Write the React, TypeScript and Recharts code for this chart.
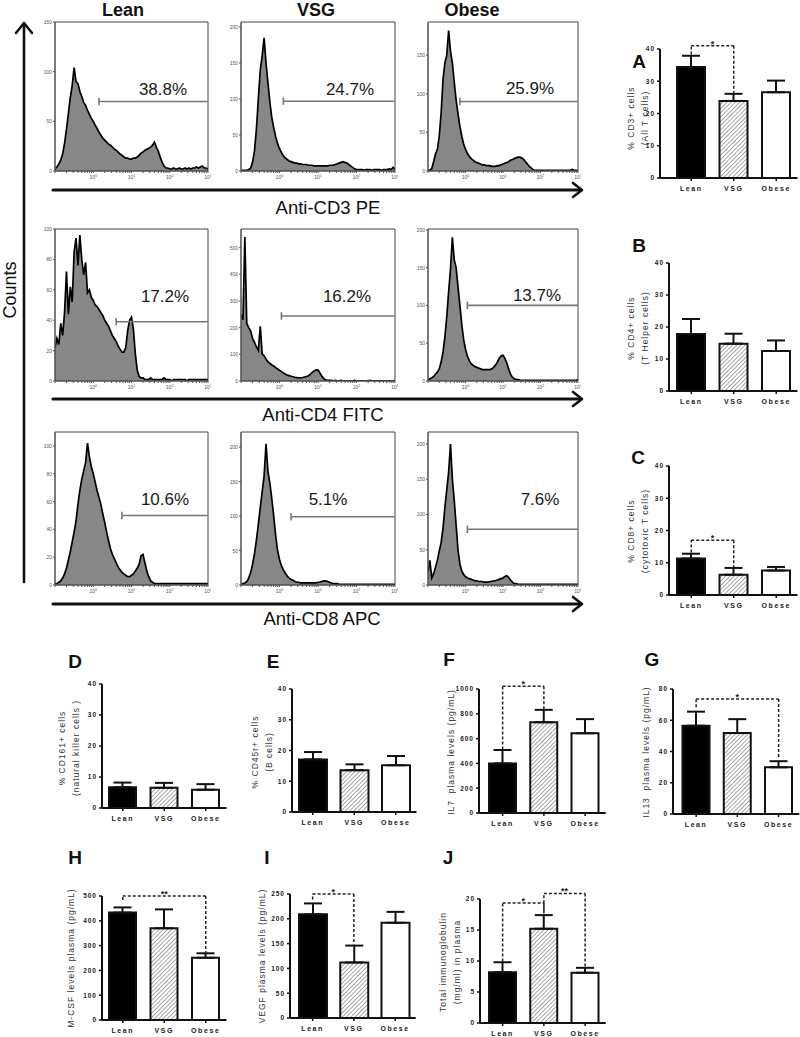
import React from "react";
import {
  AreaChart,
  Area,
  BarChart,
  Bar,
  Cell,
  ErrorBar,
  XAxis,
  YAxis,
  ReferenceLine,
  ReferenceArea,
} from "recharts";

const FONT = '"Liberation Sans", Arial, sans-serif';
const groups = ["Lean", "VSG", "Obese"];

// flow histograms: counts per channel, 20 channels per decade, 10^-1 .. 10^3 (81 channels)
const cd3Lean = [
  2, 4, 7, 11, 17, 28, 42, 58, 74, 86,
  104, 90, 88, 80, 75, 69, 66, 61, 57, 53,
  50, 46, 43, 39, 36, 33, 31, 29, 27, 26,
  24, 22, 21, 19, 17, 16, 14, 13, 13, 12,
  12, 13, 13, 14, 16, 18, 19, 21, 22, 23,
  24, 26, 29, 24, 20, 14, 9, 5, 3, 3,
  2, 2, 3, 2, 2, 3, 2, 2, 3, 2,
  3, 2, 3, 3, 4, 3, 4, 5, 3, 3,
  2,
];
const cd3Vsg = [
  0, 1, 1, 1, 2, 4, 12, 28, 58, 100,
  140, 160, 185, 150, 122, 96, 74, 60, 48, 38,
  31, 26, 21, 18, 16, 14, 13, 12, 11, 11,
  10, 10, 9, 9, 9, 8, 8, 8, 7, 7,
  7, 7, 7, 7, 7, 7, 8, 8, 8, 9,
  10, 11, 12, 13, 12, 11, 9, 7, 5, 3,
  2, 2, 2, 2, 1, 2, 2, 2, 1, 2,
  2, 2, 2, 1, 2, 2, 2, 3, 2, 5,
  3,
];
const cd3Obese = [
  1, 1, 3, 12, 22, 28, 45, 75, 118, 140,
  150, 182, 155, 140, 115, 92, 74, 58, 45, 35,
  28, 23, 19, 16, 14, 12, 11, 10, 9, 8,
  8, 7, 7, 7, 6, 6, 6, 7, 7, 8,
  9, 10, 11, 12, 14, 15, 16, 17, 18, 18,
  17, 15, 12, 9, 6, 4, 2, 1, 1, 1,
  1, 1, 1, 1, 1, 1, 1, 1, 1, 1,
  1, 1, 1, 1, 1, 1, 1, 2, 1, 1,
  1,
];
const cd4Lean = [
  22, 28, 24, 38, 30, 45, 72, 44, 62, 52,
  85, 94, 76, 96, 80, 70, 78, 58, 60, 55,
  53, 50, 49, 47, 45, 43, 40, 38, 36, 33,
  30, 28, 26, 23, 21, 19, 19, 22, 33, 40,
  42, 34, 18, 7, 3, 2, 2, 1, 1, 1,
  2, 1, 1, 1, 1, 1, 1, 2, 1, 1,
  1, 0, 1, 1, 1, 1, 1, 1, 1, 0,
  1, 1, 1, 1, 1, 1, 1, 1, 1, 1,
  1,
];
const cd4Vsg = [
  250, 230, 540, 215, 200, 188, 160, 145, 128, 115,
  205, 102, 95, 82, 72, 66, 60, 56, 50, 45,
  40, 35, 30, 26, 22, 20, 18, 16, 14, 13,
  12, 12, 13, 15, 17, 20, 25, 32, 38, 42,
  41, 30, 18, 9, 4, 2, 2, 2, 1, 2,
  1, 1, 2, 1, 1, 1, 1, 1, 1, 2,
  1, 1, 1, 1, 1, 1, 1, 2, 1, 1,
  1, 1, 1, 1, 1, 1, 1, 1, 1, 1,
  2,
];
const cd4Obese = [
  2, 3, 4, 6, 9, 12, 16, 25, 38, 58,
  85, 118, 148, 190, 160, 150, 125, 100, 75, 55,
  42, 33, 27, 23, 21, 19, 18, 17, 16, 15,
  15, 15, 15, 15, 16, 18, 21, 25, 30, 33,
  34, 30, 24, 16, 9, 5, 3, 2, 2, 1,
  1, 1, 1, 1, 1, 1, 1, 1, 1, 1,
  1, 1, 1, 1, 1, 1, 1, 1, 1, 1,
  1, 1, 1, 1, 1, 1, 1, 1, 1, 1,
  2,
];
const cd8Lean = [
  1, 1, 2, 3, 5, 8, 12, 18, 24, 31,
  38, 46, 58, 68, 76, 82, 88, 102, 92, 85,
  80, 74, 68, 63, 58, 51, 45, 38, 32, 26,
  22, 19, 16, 13, 11, 9, 8, 7, 6, 6,
  7, 8, 10, 12, 15, 21, 22, 16, 10, 6,
  3, 2, 1, 1, 1, 1, 1, 1, 1, 1,
  1, 1, 1, 1, 1, 1, 1, 1, 1, 1,
  1, 1, 1, 1, 1, 1, 1, 1, 1, 1,
  1,
];
const cd8Vsg = [
  1, 2, 3, 5, 10, 18, 30, 45, 65, 88,
  112, 135, 158, 205, 165, 148, 125, 100, 72, 50,
  37, 28, 22, 17, 13, 10, 8, 7, 5, 4,
  4, 3, 3, 3, 3, 3, 3, 3, 3, 3,
  4, 4, 5, 6, 6, 5, 4, 3, 2, 2,
  2, 1, 1, 1, 1, 1, 1, 1, 1, 1,
  1, 1, 1, 1, 1, 1, 1, 1, 1, 1,
  1, 1, 1, 1, 1, 1, 1, 1, 1, 1,
  1,
];
const cd8Obese = [
  18, 35, 10, 16, 25, 35, 48, 60, 80, 110,
  135, 160, 200, 150, 120, 85, 50, 30, 20, 15,
  12, 10, 9, 8, 7, 6, 6, 5, 5, 5,
  4, 4, 4, 5, 5, 6, 6, 7, 8, 9,
  10, 12, 13, 11, 7, 4, 2, 2, 1, 1,
  1, 1, 1, 1, 1, 1, 1, 1, 1, 1,
  1, 1, 1, 1, 1, 1, 1, 1, 1, 1,
  1, 1, 1, 1, 1, 1, 1, 1, 1, 1,
  1,
];

const histTitles = ["Lean", "VSG", "Obese"];
const markers = ["Anti-CD3 PE", "Anti-CD4 FITC", "Anti-CD8 APC"];
const histCounts = [cd3Lean, cd3Vsg, cd3Obese, cd4Lean, cd4Vsg, cd4Obese, cd8Lean, cd8Vsg, cd8Obese];
const histYMax = [150, 207, 193, 100, 570, 201, 110, 222, 217];
const histYTicks = [
  [0, 50, 100, 150], [0, 50, 100, 150, 200], [0, 50, 100, 150],
  [0, 20, 40, 60, 80, 100], [0, 100, 200, 300, 400, 500], [0, 50, 100, 150, 200],
  [0, 20, 40, 60, 80, 100], [0, 50, 100, 150, 200], [0, 50, 100, 150, 200],
];
// gate: start channel, count level, percent positive
const gateStart = [23, 22, 17, 32, 21, 21, 35, 26, 21];
const gateLevel = [70, 97, 90, 39, 244, 100, 50, 99, 79];
const gatePct = ["38.8%", "24.7%", "25.9%", "17.2%", "16.2%", "13.7%", "10.6%", "5.1%", "7.6%"];

// bar panels: mean and top of error bar (Lean, VSG, Obese)
const cd3Mean = [34.4, 23.9, 26.6];
const cd3Top = [37.9, 26.1, 30.2];
const cd4Mean = [17.8, 14.8, 12.5];
const cd4Top = [22.5, 17.9, 15.8];
const cd8Mean = [11.3, 6.3, 7.6];
const cd8Top = [12.8, 8.4, 8.7];
const cd161Mean = [6.7, 6.5, 5.9];
const cd161Top = [8.2, 8.1, 7.7];
const cd45Mean = [17.1, 13.6, 15.2];
const cd45Top = [19.5, 15.5, 18.2];
const il7Mean = [400, 732, 643];
const il7Top = [508, 832, 757];
const il13Mean = [56.5, 51.8, 29.9];
const il13Top = [65.5, 60.7, 33.8];
const mcsfMean = [433, 370, 251];
const mcsfTop = [454, 446, 269];
const vegfMean = [209, 112, 192];
const vegfTop = [231, 146, 214];
const igMean = [8.2, 15.2, 8.1];
const igTop = [9.8, 17.4, 8.9];

// significance brackets
const sigA = [{ a: "Lean", b: "VSG", level: 41, ya: 38.3, yb: 26.4, mark: "*" }];
const sigC = [{ a: "Lean", b: "VSG", level: 17, ya: 13.2, yb: 8.6, mark: "*" }];
const sigF = [{ a: "Lean", b: "VSG", level: 1022, ya: 512, yb: 836, mark: "*" }];
const sigG = [{ a: "Lean", b: "Obese", level: 73.6, ya: 68.4, yb: 36.5, mark: "*" }];
const sigH = [{ a: "Lean", b: "Obese", level: 500, ya: 484, yb: 271, mark: "**" }];
const sigI = [{ a: "Lean", b: "VSG", level: 250, ya: 239, yb: 148, mark: "*" }];
const sigJ = [
  { a: "Lean", b: "VSG", level: 19.35, ya: 9.9, yb: 17.7, mark: "*" },
  { a: "VSG", b: "Obese", level: 20.9, ya: 17.7, yb: 9.0, mark: "**" },
];

const histBoxX = [[55, 208], [241, 395], [428, 578]];
const histBoxY = [[22, 171], [229, 381], [432, 585]];
const pctPos = [
  [163, 90], [350, 90], [530, 89],
  [165, 297], [347, 297], [537, 296],
  [165, 500], [328, 500], [540, 500],
];

const barPanels = [
  { id: "A", mean: cd3Mean, top: cd3Top, sig: sigA, max: 40, ticks: [0, 10, 20, 30, 40], ax: 660, yTop: 49, y0: 178, padL: 10, cw: 42.5, bw: 28, letter: [639, 62], lab: ["% CD3+ cells", "(All T cells)"], labPos: [639, 118] },
  { id: "B", mean: cd4Mean, top: cd4Top, sig: [], max: 40, ticks: [0, 10, 20, 30, 40], ax: 669, yTop: 263, y0: 391, padL: 1, cw: 42.5, bw: 28, letter: [639, 246], lab: ["% CD4+ cells", "(T Helper cells)"], labPos: [639, 328] },
  { id: "C", mean: cd8Mean, top: cd8Top, sig: sigC, max: 40, ticks: [0, 10, 20, 30, 40], ax: 669, yTop: 466, y0: 595, padL: 1, cw: 42.5, bw: 28, letter: [638, 458], lab: ["% CD8+ cells", "(cytotoxic T cells)"], labPos: [639, 531] },
  { id: "D", mean: cd161Mean, top: cd161Top, sig: [], max: 40, ticks: [0, 10, 20, 30, 40], ax: 102, yTop: 684, y0: 808, padL: 0, cw: 41.5, bw: 27, letter: [75, 662], lab: ["% CD161+ cells", "(natural killer cells )"], labPos: [70, 748] },
  { id: "E", mean: cd45Mean, top: cd45Top, sig: [], max: 40, ticks: [0, 10, 20, 30, 40], ax: 292, yTop: 689, y0: 812, padL: 0, cw: 41.5, bw: 28, letter: [273, 662], lab: ["% CD45r+ cells", "(B cells)"], labPos: [263, 752] },
  { id: "F", mean: il7Mean, top: il7Top, sig: sigF, max: 1000, ticks: [0, 200, 400, 600, 800, 1000], ax: 479, yTop: 689, y0: 813, padL: 3, cw: 41.25, bw: 27, letter: [449, 660], lab: ["IL7  plasma levels (pg/mL)"], labPos: [452, 752] },
  { id: "G", mean: il13Mean, top: il13Top, sig: sigG, max: 80, ticks: [0, 20, 40, 60, 80], ax: 673, yTop: 689, y0: 814, padL: 2.5, cw: 41.25, bw: 27, letter: [652, 660], lab: ["IL13  plasma levels (pg/mL)"], labPos: [647, 752] },
  { id: "H", mean: mcsfMean, top: mcsfTop, sig: sigH, max: 500, ticks: [0, 100, 200, 300, 400, 500], ax: 102, yTop: 896, y0: 1020, padL: 0, cw: 41.5, bw: 27, letter: [75, 858], lab: ["M-CSF levels plasma (pg/mL)"], labPos: [72, 958] },
  { id: "I", mean: vegfMean, top: vegfTop, sig: sigI, max: 250, ticks: [0, 50, 100, 150, 200, 250], ax: 290, yTop: 894, y0: 1018, padL: 2, cw: 41.25, bw: 28, letter: [267, 858], lab: ["VEGF plasma levels (pg/mL)"], labPos: [263, 956] },
  { id: "J", mean: igMean, top: igTop, sig: sigJ, max: 20, ticks: [0, 5, 10, 15, 20], ax: 480, yTop: 899, y0: 1023, padL: 2, cw: 41.25, bw: 27, letter: [448, 858], lab: ["Total immunoglobulin", "(mg/ml) in plasma"], labPos: [451, 962] },
];

// log axis ticks in channel units (majors at each decade, minors at 2..9)
const logTicks: number[] = [];
for (let d = 0; d < 4; d++) {
  for (let k = 1; k <= 9; k++) logTicks.push(+((d + Math.log10(k)) * 20).toFixed(3));
}
logTicks.push(80);

const LogTick = (props: any) => {
  const { x, y, payload } = props;
  const v = payload.value;
  if (v === 0 || Math.abs(v / 20 - Math.round(v / 20)) > 0.001) return <g />;
  return (
    <text x={x} y={y} dy={5} textAnchor="middle" fontSize={5} fill="#555" fontFamily={FONT}>
      10<tspan dy={-2} fontSize={3.6}>{Math.round(v / 20) - 1}</tspan>
    </text>
  );
};

const HistYTick = (props: any) => {
  const { x, y, payload } = props;
  return (
    <text x={x} y={y} dy={2} textAnchor="end" fontSize={5} fill="#555" fontFamily={FONT}>
      {payload.value}
    </text>
  );
};

const BarXTick = (props: any) => {
  const { x, y, payload } = props;
  return (
    <text x={x} y={y} dy={8} textAnchor="middle" fontSize={7} fontWeight={700} fill="#222" fontFamily={FONT} style={{ letterSpacing: 1.6 }}>
      {payload.value}
    </text>
  );
};

const BarYTick = (props: any) => {
  const { x, y, payload } = props;
  return (
    <text x={x} y={y} dy={2.4} textAnchor="end" fontSize={6.5} fontWeight={700} fill="#222" fontFamily={FONT} style={{ letterSpacing: 1 }}>
      {payload.value}
    </text>
  );
};

function Txt({ x, y, size, bold, rot = 0, ls = 0, color = "#111", children }: any) {
  return (
    <div
      style={{
        position: "absolute",
        left: x,
        top: y,
        transform: `translate(-50%, -50%) rotate(${rot}deg)`,
        fontSize: size,
        fontWeight: bold ? 700 : 400,
        letterSpacing: ls,
        color,
        whiteSpace: "nowrap",
        textAlign: "center",
        lineHeight: 1.6,
      }}
    >
      {children}
    </div>
  );
}

const HY = 20, HT = 5, HX = 14, HR = 3;

function Hist({ idx }: { idx: number }) {
  const row = Math.floor(idx / 3), col = idx % 3;
  const [x0, x1] = histBoxX[col];
  const [y0, y1] = histBoxY[row];
  const yMax = histYMax[idx];
  const data = histCounts[idx].map((c, i) => ({ ch: i, c }));
  const gs = gateStart[idx], gl = gateLevel[idx];
  const cap = yMax * 0.025;
  return (
    <div style={{ position: "absolute", left: x0 - HY, top: y0 - HT }}>
      <AreaChart width={x1 - x0 + HY + HR} height={y1 - y0 + HT + HX} data={data} margin={{ top: HT, right: HR, bottom: 0, left: 0 }}>
        <XAxis type="number" dataKey="ch" domain={[0, 80]} ticks={logTicks} interval={0} tick={(p: any) => <LogTick {...p} />} tickSize={2} tickMargin={1} height={HX} stroke="#555" allowDataOverflow />
        <YAxis type="number" domain={[0, yMax]} ticks={histYTicks[idx]} interval={0} tick={(p: any) => <HistYTick {...p} />} tickSize={2} tickMargin={1} width={HY} stroke="#555" allowDataOverflow />
        <Area type="linear" dataKey="c" stroke="#000" strokeWidth={1.7} fill="#878787" fillOpacity={1} dot={false} activeDot={false} isAnimationActive={false} />
        <ReferenceArea x1={0} x2={80} y1={0} y2={yMax} fill="none" stroke="#444" strokeWidth={1} ifOverflow="visible" />
        <ReferenceLine segment={[{ x: gs, y: gl }, { x: 80, y: gl }]} stroke="#777" strokeWidth={1.6} ifOverflow="visible" />
        <ReferenceLine segment={[{ x: gs, y: gl - cap }, { x: gs, y: gl + cap }]} stroke="#777" strokeWidth={1.6} ifOverflow="visible" />
      </AreaChart>
    </div>
  );
}

const BY = 30, BT = 16, BX = 22, BR = 2;
const barFills = (id: string) => ["#000", `url(#hatch${id})`, "#fff"];

function BarPanel({ p }: { p: any }) {
  const data = groups.map((g, i) => ({ g, v: p.mean[i], e: [0, +(p.top[i] - p.mean[i]).toFixed(2)] }));
  const plotW = p.padL + 3 * p.cw;
  const dash = { stroke: "#222", strokeWidth: 1.5, strokeDasharray: "3 2", ifOverflow: "visible" as const };
  const lines: any[] = [];
  p.sig.forEach((s: any, k: number) => {
    lines.push(<ReferenceLine key={`l${k}`} segment={[{ x: s.a, y: s.ya }, { x: s.a, y: s.level }]} {...dash} />);
    lines.push(
      <ReferenceLine
        key={`h${k}`}
        segment={[{ x: s.a, y: s.level }, { x: s.b, y: s.level }]}
        {...dash}
        label={{ value: s.mark, position: "top", offset: -1, fontSize: 9, fill: "#222", fontWeight: 700 }}
      />
    );
    lines.push(<ReferenceLine key={`r${k}`} segment={[{ x: s.b, y: s.level }, { x: s.b, y: s.yb }]} {...dash} />);
  });
  return (
    <div style={{ position: "absolute", left: p.ax - BY, top: p.yTop - BT }}>
      <BarChart width={BY + plotW + BR} height={BT + (p.y0 - p.yTop) + BX} data={data} margin={{ top: BT, right: BR, bottom: 0, left: 0 }} barCategoryGap={0}>
        <defs>
          <pattern id={`hatch${p.id}`} patternUnits="userSpaceOnUse" width={3} height={3} patternTransform="rotate(45)">
            <rect width={3} height={3} fill="#fff" />
            <line x1={0} y1={0} x2={0} y2={3} stroke="#7d7d7d" strokeWidth={1.4} />
          </pattern>
        </defs>
        <XAxis dataKey="g" padding={{ left: p.padL, right: 0 }} height={BX} tick={(t: any) => <BarXTick {...t} />} tickSize={3} tickMargin={2} axisLine={{ stroke: "#111", strokeWidth: 2 }} tickLine={{ stroke: "#111", strokeWidth: 1.5 }} interval={0} />
        <YAxis type="number" domain={[0, p.max]} ticks={p.ticks} interval={0} width={BY} tick={(t: any) => <BarYTick {...t} />} tickSize={3} tickMargin={2} axisLine={{ stroke: "#111", strokeWidth: 2 }} tickLine={{ stroke: "#111", strokeWidth: 1.5 }} />
        <Bar dataKey="v" barSize={p.bw} stroke="#111" strokeWidth={2} isAnimationActive={false}>
          {data.map((d, i) => (
            <Cell key={d.g} fill={barFills(p.id)[i]} />
          ))}
          <ErrorBar dataKey="e" width={9} strokeWidth={2} stroke="#111" direction="y" isAnimationActive={false} />
        </Bar>
        {lines}
      </BarChart>
    </div>
  );
}

export default function App() {
  return (
    <div style={{ position: "absolute", left: 0, top: 0, width: 800, height: 1037, background: "#fff", fontFamily: FONT, color: "#111", overflow: "hidden" }}>
      <svg width={800} height={1037} style={{ position: "absolute", left: 0, top: 0 }}>
        <g stroke="#111" strokeWidth={2.6} fill="none" strokeLinecap="round" strokeLinejoin="round">
          <line x1={24} y1={582} x2={24} y2={24} />
          <polyline points="16,33 24,23 32,33" />
          {[190, 399, 604].map((y) => (
            <g key={y}>
              <line x1={53} y1={y} x2={581} y2={y} strokeWidth={3} />
              <polyline points={`573,${y - 7} 582,${y} 573,${y + 7}`} />
            </g>
          ))}
        </g>
      </svg>
      {histCounts.map((_, i) => (
        <Hist key={i} idx={i} />
      ))}
      {barPanels.map((p) => (
        <BarPanel key={p.id} p={p} />
      ))}

      <Txt x={10} y={290} size={18} rot={-90}>Counts</Txt>
      {histTitles.map((t, i) => (
        <Txt key={t} x={[123, 316, 472][i]} y={10} size={18} bold>{t}</Txt>
      ))}
      {markers.map((m, i) => (
        <Txt key={m} x={[328, 323, 322][i]} y={[208, 415, 619][i]} size={18.5}>{m}</Txt>
      ))}
      {gatePct.map((t, i) => (
        <Txt key={i} x={pctPos[i][0]} y={pctPos[i][1]} size={17} color="#1a1a1a">{t}</Txt>
      ))}
      {barPanels.map((p) => (
        <React.Fragment key={p.id}>
          <Txt x={p.letter[0]} y={p.letter[1]} size={19} bold>{p.id}</Txt>
          <Txt x={p.labPos[0]} y={p.labPos[1]} size={8.5} ls={1} rot={-90} color="#333">
            {p.lab.map((l: string) => (
              <div key={l} style={{ whiteSpace: "pre" }}>{l}</div>
            ))}
          </Txt>
        </React.Fragment>
      ))}
    </div>
  );
}
